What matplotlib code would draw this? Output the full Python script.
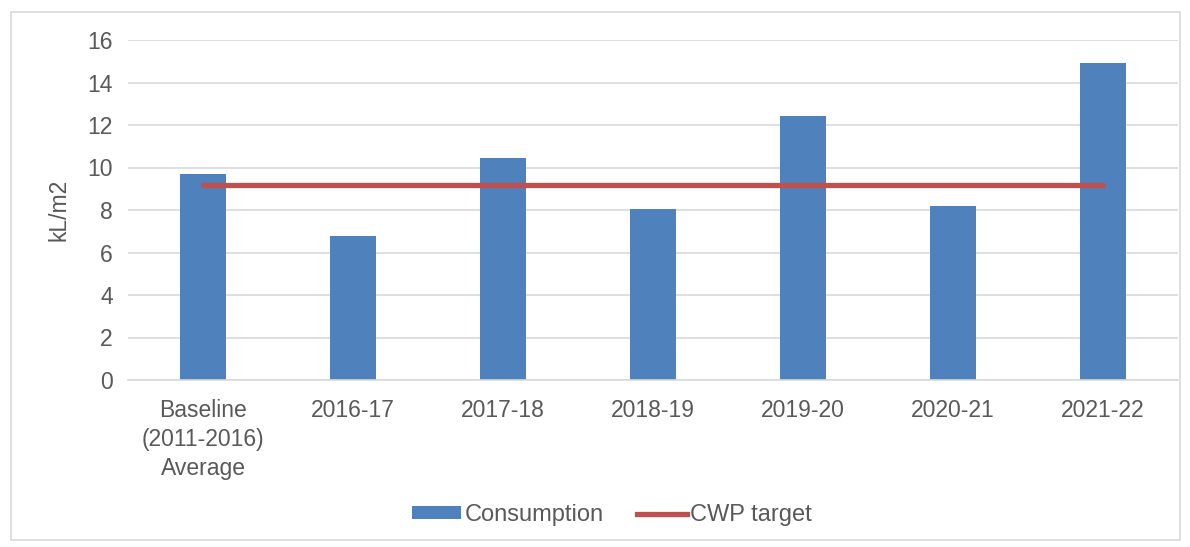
import matplotlib
matplotlib.use("Agg")
import matplotlib.pyplot as plt
from matplotlib.patches import Rectangle, Patch
from matplotlib.lines import Line2D

categories = ["Baseline\n(2011-2016)\nAverage", "2016-17", "2017-18", "2018-19",
              "2019-20", "2020-21", "2021-22"]
consumption = [9.7, 6.8, 10.45, 8.07, 12.42, 8.18, 14.9]
cwp_target = [9.2, 9.2, 9.2, 9.2, 9.2, 9.2, 9.2]
yticks = [0, 2, 4, 6, 8, 10, 12, 14, 16]

plt.rcParams['font.family'] = ['Liberation Sans', 'DejaVu Sans']
txt = '#595959'
fs = 16.5

fig = plt.figure(figsize=(11.9, 5.47), dpi=100)
fig.patches.append(Rectangle((11/1190, 1 - 540/547), 1169/1190, 528/547,
                             transform=fig.transFigure, fill=False,
                             edgecolor='#d9d9d9', linewidth=1.2))

ax = fig.add_axes([128/1190, 1 - 380/547, 1050/1190, 340/547])
x = list(range(len(categories)))
ax.bar(x, consumption, width=0.31, color='#4f81bd', zorder=2)
ax.plot(x, cwp_target, color='#c0504d', linewidth=3.8, solid_capstyle='round', zorder=3)

ax.set_xlim(-0.5, len(categories) - 0.5)
ax.set_ylim(0, 16)
ax.set_yticks(yticks)
ax.set_yticklabels([str(v) for v in yticks], fontsize=fs, color=txt)
ax.set_xticks(x)
ax.set_xticklabels(categories, fontsize=fs, color=txt, linespacing=1.33)
ax.tick_params(axis='both', length=0)
ax.tick_params(axis='y', pad=11)
ax.tick_params(axis='x', pad=14)
ax.grid(axis='y', color='#d9d9d9', linewidth=1.2, zorder=0)
ax.set_axisbelow(True)
for s in ['top', 'right', 'left']:
    ax.spines[s].set_visible(False)
ax.spines['bottom'].set_color('#d9d9d9')
ax.spines['bottom'].set_linewidth(1.2)
ax.set_ylabel("kL/m2", fontsize=fs, color=txt, labelpad=12)

handles = [Patch(facecolor='#4f81bd', edgecolor='none'),
           Line2D([0], [0], color='#c0504d', linewidth=3.8)]
fig.legend(handles, ["Consumption", "CWP target"], loc='center',
           bbox_to_anchor=(612/1190, 1 - 515/547), ncol=2, frameon=False,
           fontsize=17, labelcolor=txt, handlelength=2.1, handleheight=0.45,
           handletextpad=0.15, columnspacing=1.4)

fig.savefig("out.png", dpi=100)
